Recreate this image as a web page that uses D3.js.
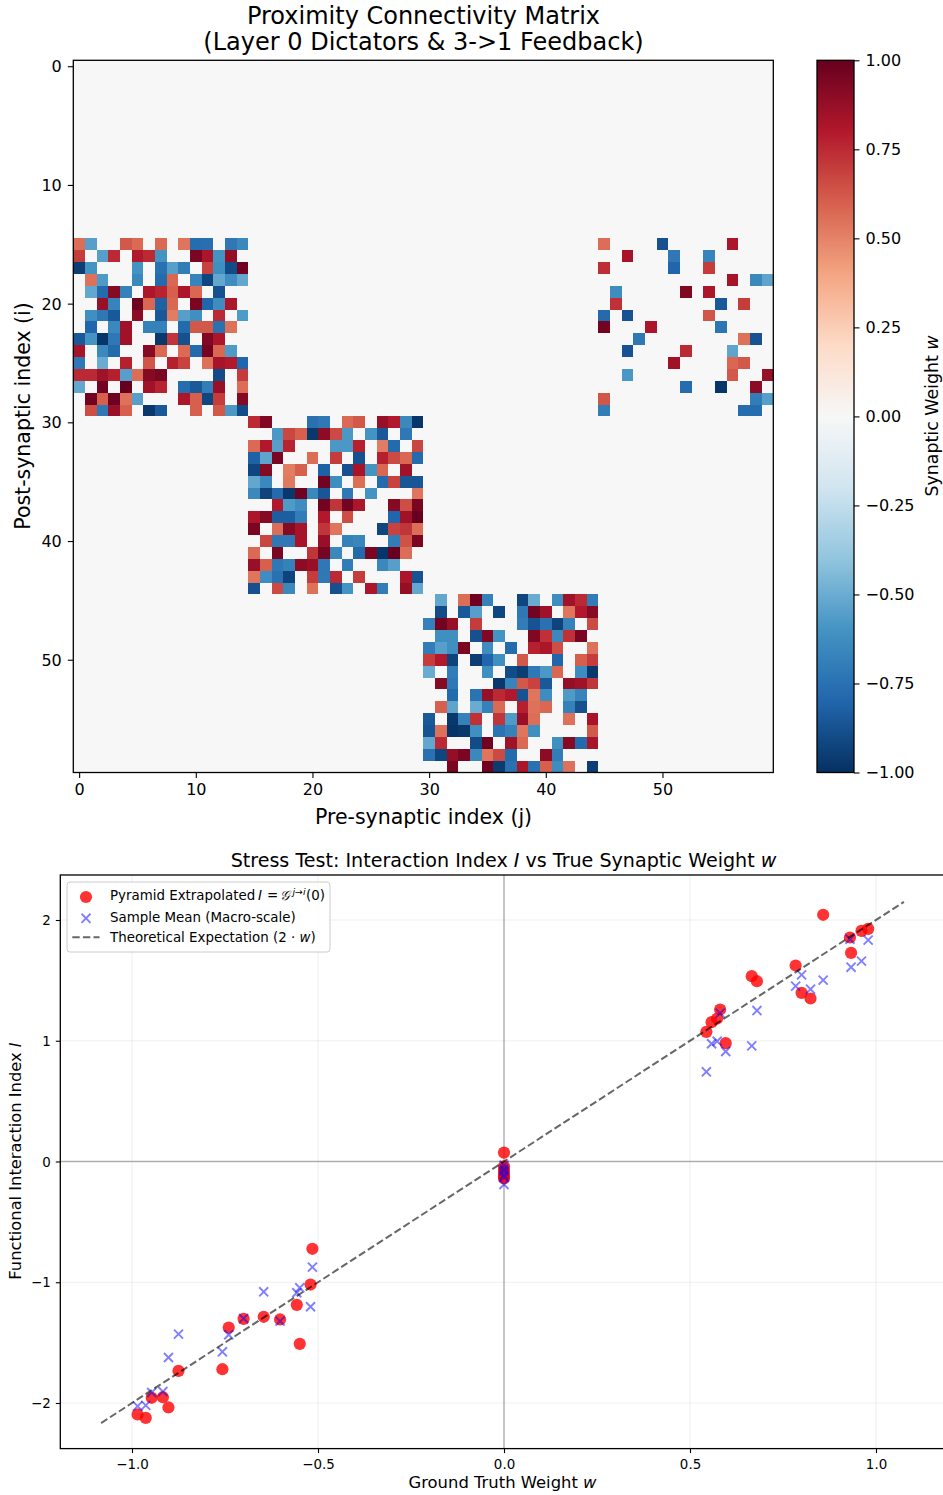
<!DOCTYPE html>
<html>
<head>
<meta charset="utf-8">
<script src="https://cdn.jsdelivr.net/npm/d3@7"></script>
<style>
    html, body { margin: 0; padding: 0; background: #fff; }
    svg { display: block; }
    text { font-family: "DejaVu Sans", sans-serif; fill: #000; }
</style>
</head>
<body>
<svg id="canvas"></svg>
<script>
// weights of the four non-empty blocks, row by row
let blockA = [
    [.56,-.55,0,0,.62,.57,0,.57,0,.54,-.77,-.76,0,-.72,-.65],
    [.7,0,-.55,.75,0,.8,.75,-.6,0,0,.95,.82,-.6,.88,0],
    [-.95,-.6,0,0,0,-.6,0,-.75,-.55,-.7,0,.68,-.62,-.9,.98],
    [0,.55,-.57,0,0,-.65,0,-.78,.58,0,-.67,-.92,-.52,-.63,-.52],
    [0,-.52,-.78,.92,-.68,0,.82,.77,.6,.82,.58,0,-.88,0,0],
    [0,0,.87,-.67,0,.98,.58,-.82,.58,0,.95,-.8,-.63,.82,0],
    [0,-.62,-.72,-.85,0,.9,0,-.85,.52,-.55,-.62,0,.75,0,-.57],
    [0,-.8,0,-.65,.85,0,-.68,-.68,0,-.78,.62,.62,-.75,.55,0],
    [-.85,-.6,-.98,-.72,.85,0,0,-.97,.72,-.88,0,.93,.82,0,0],
    [.83,0,-.65,-.78,0,0,.92,.57,0,.57,-.78,.97,.58,-.57,0],
    [-.72,0,-.5,0,.78,0,.63,0,.78,.68,0,.55,.83,.8,-.8],
    [.75,.75,.85,.78,-.55,.56,.92,.95,0,0,0,0,-.9,0,.7],
    [-.52,0,.97,0,1,0,.85,.77,0,-.77,-.85,-.7,.87,0,.56],
    [0,.97,.6,.98,.55,-.55,0,0,0,.82,.6,-.92,.7,0,.92],
    [0,.65,-.72,.87,.6,0,-.97,-.85,0,0,.6,0,.62,-.58,-.9]
]
let blockB = [
    [.75,.93,0,0,0,-.75,-.72,0,.57,.62,0,.87,.8,-.65,-.98],
    [0,0,-.58,.67,.6,-.97,.9,.66,-.58,0,-.6,-.85,0,-.72,0],
    [.57,.8,-.55,.77,0,0,0,-.58,-.58,.78,0,.52,-.78,0,.67],
    [-.82,-.53,.95,0,0,.56,0,.7,0,-.88,0,.78,.66,.58,-.78],
    [-.92,.92,0,.52,.6,0,-.82,0,-.88,.83,-.6,.58,0,.85,0],
    [-.52,-.65,0,.53,0,0,.97,-.63,0,.56,0,-.78,.68,-.86,-.86],
    [-.65,-.93,-.78,-.97,.98,-.65,-.86,0,-.72,0,-.6,0,0,0,.54],
    [0,0,.8,-.57,-.63,0,.97,.72,.97,.82,0,0,.92,.65,.95],
    [.82,.92,-.83,-.83,-.7,0,.8,0,.65,0,0,0,-.8,.85,1],
    [.95,0,.56,.92,.83,0,.72,.54,0,0,0,-.92,.68,.72,.56],
    [0,.67,-.72,-.72,.83,0,.87,0,-.68,-.66,0,0,-.7,.64,.95],
    [.57,0,.95,0,0,.72,.96,-.65,0,-.78,.95,-.98,1,.56,0],
    [.87,.6,-.72,-.68,.9,.87,-.72,0,-.7,0,0,-.65,-.55,0,0],
    [.54,-.63,-.75,-.93,0,.7,-.72,.75,0,.7,0,0,0,.82,-.87],
    [-.88,0,.66,-.65,0,.55,0,-.88,-.6,0,.82,-.7,0,.88,-.52]
]
let blockC = [
    [0,-.52,0,.56,.98,-.68,0,0,-.92,-.5,0,-.63,.85,.75,-.7],
    [0,-.9,0,-.85,-.55,0,-.92,0,-.72,.97,.85,0,.54,.8,.92],
    [-.68,.97,.87,0,.7,0,0,0,-.7,-.87,-.75,-.93,-.68,0,.66],
    [0,-.62,-.62,0,-.88,.93,-.6,0,0,.93,.73,-.65,.73,.95,0],
    [-.7,-.55,-.62,.95,0,-.63,0,-.78,0,.78,.82,.65,0,0,.55],
    [.7,.8,-.93,0,-.95,-.8,-.62,0,.62,0,0,-.8,0,.6,.7],
    [-.5,0,-.7,0,0,-.62,0,-.9,-.95,-.72,-.58,.58,0,-.63,-.97],
    [0,.92,-.72,0,0,0,-.97,-.67,.62,.68,-.85,0,.88,.85,.72],
    [0,0,-.78,0,-.74,.87,.75,.8,-.87,.54,-.63,0,-.57,-.67,0],
    [0,.6,-.53,0,-.5,-.68,.57,0,.78,.55,.58,0,-.68,-.88,0],
    [-.85,0,-.97,-.68,.73,0,.72,-.57,.87,.56,0,0,.55,0,.83],
    [-.87,.55,-.98,-.97,-.62,0,-.74,-.68,.54,-.62,0,0,0,0,.62],
    [-.52,.75,0,0,-.9,.98,0,.85,.57,0,0,-.62,.92,-.78,.83],
    [-.75,-.92,.88,.95,-.65,.54,.66,-.78,0,0,.9,-.7,0,0,0],
    [0,0,.95,0,0,.98,-.96,-.75,.82,-.75,.6,-.63,.55,0,-.95]
]
let blockD = [
    [.56,0,0,0,0,-.88,0,0,0,0,0,.82,0,0,0],
    [0,0,.83,0,0,0,-.72,0,0,-.67,0,0,0,0,0],
    [.74,0,0,0,0,0,-.8,0,0,.7,0,0,0,0,0],
    [0,0,0,0,0,0,0,0,0,0,0,.83,0,-.65,-.53],
    [0,-.63,0,0,0,0,0,.93,0,.82,0,0,0,0,0],
    [0,.73,0,0,0,0,0,0,0,0,-.85,0,.7,0,0],
    [-.78,0,-.87,0,0,0,0,0,0,.63,0,0,0,0,0],
    [.97,0,0,0,.82,0,0,0,0,0,-.73,0,0,0,0],
    [0,0,0,-.72,0,0,0,0,0,0,0,0,.55,-.87,0],
    [0,0,-.87,0,0,0,0,.75,0,0,0,-.53,0,0,0],
    [0,0,0,0,0,0,.85,0,0,0,0,.58,.62,0,0],
    [0,0,-.58,0,0,0,0,0,0,0,0,.62,0,0,.87],
    [0,0,0,0,0,0,0,-.77,0,0,-.98,0,0,.9,0],
    [.63,0,0,0,0,0,0,0,0,0,0,0,0,-.7,-.55],
    [-.7,0,0,0,0,0,0,0,0,0,0,0,-.77,-.77,0]
]
// [first row, first col, cells]
let blocks = [[15, 0, blockA], [30, 15, blockB], [45, 30, blockC], [15, 45, blockD]]

let matrixTicks = [0, 10, 20, 30, 40, 50]
let colorTicks = [-1, -0.75, -0.5, -0.25, 0, 0.25, 0.5, 0.75, 1]
let rdBuStops = ['#053061', '#2166ac', '#4393c3', '#92c5de', '#d1e5f0', '#f7f7f7', '#fddbc7', '#f4a582', '#d6604d', '#b2182b', '#67001f']

// scatter values
let trueWeights = [
    -.985, -.963, -.947, -.917, -.902, -.875, -.757, -.74, -.70, -.646, -.602, -.557, -.549, -.52, -.515,
    0, 0, 0, 0, 0, 0,
    .544, .558, .573, .581, .596, .666, .68, .784, .80, .824, .858, .93, .933, .961, .979
]
let pyramidIndex = [
    -2.095, -2.123, -1.957, -1.952, -2.037, -1.734, -1.72, -1.375, -1.303, -1.286, -1.308, -1.187, -1.51, -1.019, -.723,
    .074, -.04, -.07, -.1, -.12, -.14,
    1.074, 1.154, 1.184, 1.259, .98, 1.535, 1.493, 1.623, 1.397, 1.35, 2.043, 1.855, 1.728, 1.91, 1.927
]
let sampleMean = [
    -2.026, -2.02, -1.913, -1.905, -1.623, -1.43, -1.576, -1.435, -1.30, -1.079, -1.322, -1.087, -1.046, -1.203, -.875,
    -.03, -.06, -.08, -.11, -.13, -.19,
    .743, .975, .996, 1.228, .911, .958, 1.25, 1.452, 1.546, 1.427, 1.502, 1.841, 1.609, 1.659, 1.833
]
let lineW = [-1.083, 1.075]
let lineI = [-2.166, 2.15]
let scatterXTicks = [-1, -0.5, 0, 0.5, 1]
let scatterYTicks = [-2, -1, 0, 1, 2]

let width = 943
let height = 1495

let canvas = d3.select('#canvas')
canvas.attr('width', width)
      .attr('height', height)

let minus = (s) => s.replace('-', '\u2212')

let color = d3.scaleLinear()
              .domain(d3.range(11).map((i) => -1 + i * 0.2))
              .range(rdBuStops)

let styleAxis = (g, size, dy) => {
    g.selectAll('text')
     .style('font-family', '"DejaVu Sans", sans-serif')
     .style('font-size', size + 'px')
     .attr('fill', '#000')
    if(dy){
        g.selectAll('text').attr('dy', dy)
    }
    g.selectAll('line').attr('stroke', '#000').attr('stroke-width', 1.1)
    g.select('.domain').remove()
}

let addLabel = (parts, x, y, size, rotate) => {
    let t = canvas.append('text')
                  .attr('text-anchor', 'middle')
                  .attr('font-size', size)
                  .attr('transform', 'translate(' + x + ',' + y + ')' + (rotate ? ' rotate(-90)' : ''))
    parts.forEach((p) => {
        t.append('tspan')
         .attr('font-style', p[1] ? 'italic' : 'normal')
         .text(p[0])
    })
    return t
}

let drawMatrix = () => {
    let x0 = 73.3, x1 = 773.3, y0 = 60.3, y1 = 772.5
    let xScale = d3.scaleLinear().domain([-0.5, 59.5]).range([x0, x1])
    let yScale = d3.scaleLinear().domain([-0.5, 59.5]).range([y0, y1])

    canvas.append('rect')
          .attr('x', x0).attr('y', y0)
          .attr('width', x1 - x0).attr('height', y1 - y0)
          .attr('fill', color(0))

    let cells = []
    blocks.forEach((b) => {
        b[2].forEach((row, r) => {
            row.forEach((w, c) => {
                if(w !== 0){
                    cells.push({ i: b[0] + r, j: b[1] + c, w: w })
                }
            })
        })
    })

    canvas.append('g')
          .selectAll('rect')
          .data(cells)
          .enter()
          .append('rect')
          .attr('class', 'cell')
          .attr('x', (d) => xScale(d.j - 0.5))
          .attr('y', (d) => yScale(d.i - 0.5))
          .attr('width', xScale(1) - xScale(0))
          .attr('height', yScale(1) - yScale(0))
          .attr('shape-rendering', 'crispEdges')
          .attr('fill', (d) => color(d.w))

    canvas.append('rect')
          .attr('x', x0).attr('y', y0)
          .attr('width', x1 - x0).attr('height', y1 - y0)
          .attr('fill', 'none')
          .attr('stroke', '#000')
          .attr('stroke-width', 1.3)

    canvas.append('g')
          .attr('transform', 'translate(0,' + y1 + ')')
          .call(d3.axisBottom(xScale).tickValues(matrixTicks).tickSize(5.5).tickPadding(6))
          .call(styleAxis, 16)
    canvas.append('g')
          .attr('transform', 'translate(' + x0 + ',0)')
          .call(d3.axisLeft(yScale).tickValues(matrixTicks).tickSize(5.5).tickPadding(6))
          .call(styleAxis, 16, '0.34em')

    addLabel([['Proximity Connectivity Matrix']], 423.5, 24, 24)
    addLabel([['(Layer 0 Dictators & 3->1 Feedback)']], 423.5, 50, 24)
    addLabel([['Pre-synaptic index (j)']], 423.5, 824, 20.5)
    addLabel([['Post-synaptic index (i)']], 30, 416, 20.5, true)
}

let drawColorbar = () => {
    let x0 = 817, x1 = 854, y0 = 60.3, y1 = 772.5
    let cScale = d3.scaleLinear().domain([-1, 1]).range([y1, y0])

    let grad = canvas.append('defs')
                     .append('linearGradient')
                     .attr('id', 'cbar')
                     .attr('x1', 0).attr('y1', 1)
                     .attr('x2', 0).attr('y2', 0)
    rdBuStops.forEach((c, i) => {
        grad.append('stop').attr('offset', i / 10).attr('stop-color', c)
    })

    canvas.append('rect')
          .attr('x', x0).attr('y', y0)
          .attr('width', x1 - x0).attr('height', y1 - y0)
          .attr('fill', 'url(#cbar)')
          .attr('stroke', '#000')
          .attr('stroke-width', 1.3)

    canvas.append('g')
          .attr('transform', 'translate(' + x1 + ',0)')
          .call(d3.axisRight(cScale).tickValues(colorTicks).tickSize(5.5).tickPadding(6)
                  .tickFormat((d) => minus(d3.format('.2f')(d))))
          .call(styleAxis, 16, '0.34em')

    addLabel([['Synaptic Weight '], ['w', true]], 938, 416, 17.4, true)
}

let drawScatter = () => {
    let x0 = 60.3, x1 = 943, y0 = 875, y1 = 1448.6
    let xScale = d3.scaleLinear().domain([-1, 1]).range([132, 876])
    let yScale = d3.scaleLinear().domain([-2, 2]).range([1403, 920])

    let grid = canvas.append('g')
    grid.selectAll('.gx')
        .data(scatterXTicks)
        .enter()
        .append('line')
        .attr('x1', (d) => xScale(d)).attr('x2', (d) => xScale(d))
        .attr('y1', y0).attr('y2', y1)
        .attr('stroke', '#b0b0b0').attr('stroke-opacity', 0.2)
    grid.selectAll('.gy')
        .data(scatterYTicks)
        .enter()
        .append('line')
        .attr('x1', x0).attr('x2', x1)
        .attr('y1', (d) => yScale(d)).attr('y2', (d) => yScale(d))
        .attr('stroke', '#b0b0b0').attr('stroke-opacity', 0.2)

    canvas.append('line')
          .attr('x1', x0).attr('x2', x1)
          .attr('y1', yScale(0)).attr('y2', yScale(0))
          .attr('stroke', '#808080').attr('stroke-opacity', 0.6).attr('stroke-width', 1.4)
    canvas.append('line')
          .attr('x1', xScale(0)).attr('x2', xScale(0))
          .attr('y1', y0).attr('y2', y1)
          .attr('stroke', '#808080').attr('stroke-opacity', 0.6).attr('stroke-width', 1.4)

    let redDots = trueWeights.map((w, i) => [w, pyramidIndex[i]])
    let blueCrosses = trueWeights.map((w, i) => [w, sampleMean[i]])

    canvas.append('g')
          .selectAll('circle')
          .data(redDots)
          .enter()
          .append('circle')
          .attr('cx', (d) => xScale(d[0]))
          .attr('cy', (d) => yScale(d[1]))
          .attr('r', 6.1)
          .attr('fill', '#ff0000')
          .attr('fill-opacity', 0.8)

    let cross = d3.symbol().type(d3.symbolTimes).size(55)
    canvas.append('g')
          .selectAll('path')
          .data(blueCrosses)
          .enter()
          .append('path')
          .attr('d', cross)
          .attr('transform', (d) => 'translate(' + xScale(d[0]) + ',' + yScale(d[1]) + ')')
          .attr('fill', 'none')
          .attr('stroke', '#0000ff')
          .attr('stroke-opacity', 0.5)
          .attr('stroke-width', 1.9)

    canvas.append('path')
          .attr('d', d3.line().x((d) => xScale(d)).y((d, i) => yScale(lineI[i]))(lineW))
          .attr('fill', 'none')
          .attr('stroke', '#000')
          .attr('stroke-opacity', 0.6)
          .attr('stroke-width', 2)
          .attr('stroke-dasharray', '7.4,3.2')

    // right spine falls off the page
    canvas.append('rect')
          .attr('x', x0).attr('y', y0)
          .attr('width', x1 + 5 - x0).attr('height', y1 - y0)
          .attr('fill', 'none')
          .attr('stroke', '#000')
          .attr('stroke-width', 1.3)

    canvas.append('g')
          .attr('transform', 'translate(0,' + y1 + ')')
          .call(d3.axisBottom(xScale).tickValues(scatterXTicks).tickSize(4.5).tickPadding(6)
                  .tickFormat((d) => minus(d3.format('.1f')(d))))
          .call(styleAxis, 13.4)
    canvas.append('g')
          .attr('transform', 'translate(' + x0 + ',0)')
          .call(d3.axisLeft(yScale).tickValues(scatterYTicks).tickSize(4.5).tickPadding(5)
                  .tickFormat((d) => minus(String(d))))
          .call(styleAxis, 13.4, '0.34em')

    addLabel([['Stress Test: Interaction Index '], ['I', true], [' vs True Synaptic Weight '], ['w', true]], 503.5, 867, 19.1)
    addLabel([['Ground Truth Weight '], ['w', true]], 502.5, 1488, 16.4)
    addLabel([['Functional Interaction Index '], ['I', true]], 21, 1161, 16.3, true)

    // legend
    let legend = canvas.append('g')
    legend.append('rect')
          .attr('x', 67).attr('y', 882)
          .attr('width', 263).attr('height', 70)
          .attr('rx', 3)
          .attr('fill', '#fff').attr('fill-opacity', 0.8)
          .attr('stroke', '#ccc')
    legend.append('circle')
          .attr('cx', 86).attr('cy', 897)
          .attr('r', 6.1)
          .attr('fill', '#ff0000').attr('fill-opacity', 0.8)
    legend.append('path')
          .attr('d', cross)
          .attr('transform', 'translate(86,918.3)')
          .attr('fill', 'none')
          .attr('stroke', '#0000ff').attr('stroke-opacity', 0.5).attr('stroke-width', 1.9)
    legend.append('line')
          .attr('x1', 72.3).attr('x2', 99.5)
          .attr('y1', 937.3).attr('y2', 937.3)
          .attr('stroke', '#000').attr('stroke-opacity', 0.6)
          .attr('stroke-width', 2).attr('stroke-dasharray', '7.4,3.2')

    let t1 = legend.append('text').attr('x', 110).attr('y', 900).attr('font-size', 13.4)
    t1.append('tspan').text('Pyramid Extrapolated')
    t1.append('tspan').attr('x', 258).attr('font-style', 'italic').text('I')
    t1.append('tspan').attr('x', 267).text('=')
    t1.append('tspan').attr('x', 280).attr('font-style', 'italic').text('\u{1D4A2}')
    t1.append('tspan').attr('x', 292.5).attr('font-style', 'italic').attr('font-size', 9.4).attr('dy', -5.5).text('j\u2192i')
    t1.append('tspan').attr('x', 306).attr('dy', 5.5).text('(0)')

    legend.append('text').attr('x', 110).attr('y', 922).attr('font-size', 13.4)
          .text('Sample Mean (Macro-scale)')

    let t3 = legend.append('text').attr('x', 110).attr('y', 942).attr('font-size', 13.4)
    t3.append('tspan').text('Theoretical Expectation (2 \u00b7 ')
    t3.append('tspan').attr('font-style', 'italic').text('w')
    t3.append('tspan').text(')')
}

drawMatrix()
drawColorbar()
drawScatter()
</script>
</body>
</html>
